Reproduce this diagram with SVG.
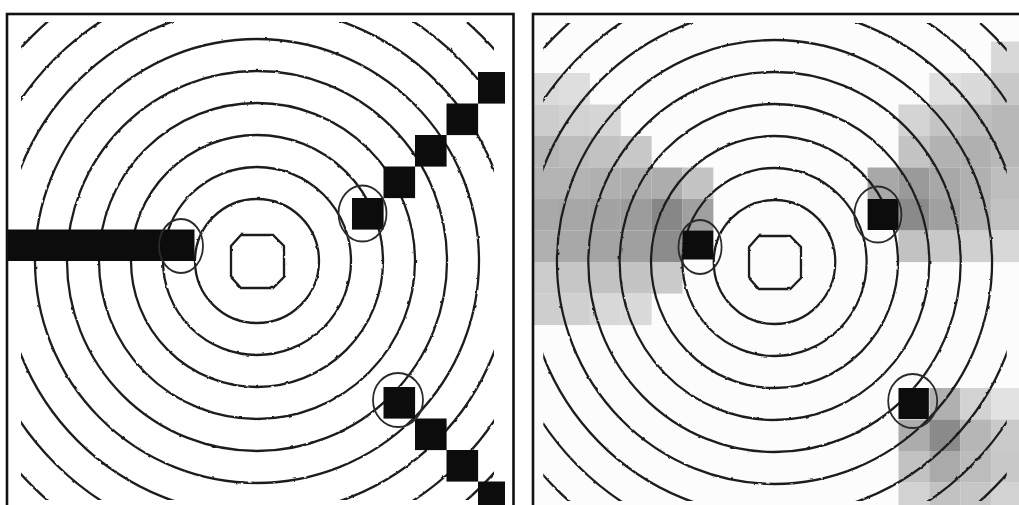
<svg xmlns="http://www.w3.org/2000/svg" width="1019" height="505" viewBox="0 0 1019 505">
<style>
.ring{fill:none;stroke:#1e1e1e;stroke-width:2.3}
.mark{fill:none;stroke:#2a2a2a;stroke-width:1.8}
.blk{fill:#0c0c0c}
.frame{fill:none;stroke:#111;stroke-width:2.6}
</style>
<defs>
<clipPath id="dom"><rect x="21" y="22" width="473" height="478"/></clipPath>
<clipPath id="leftClip"><rect x="8" y="15" width="504" height="495"/></clipPath>
<clipPath id="rightClip"><rect x="534" y="15" width="490" height="495"/></clipPath>
<filter id="rough" x="-5%" y="-5%" width="110%" height="110%">
<feTurbulence type="fractalNoise" baseFrequency="0.2" numOctaves="1" seed="3"/>
<feDisplacementMap in="SourceGraphic" scale="2.4" xChannelSelector="R" yChannelSelector="G"/>
</filter>
<g id="field">
<g clip-path="url(#dom)">
<g filter="url(#rough)">
<circle class="ring" cx="257" cy="261" r="62"/>
<circle class="ring" cx="257" cy="261" r="94"/>
<circle class="ring" cx="257" cy="261" r="126"/>
<circle class="ring" cx="257" cy="261" r="158"/>
<circle class="ring" cx="257" cy="261" r="190"/>
<circle class="ring" cx="257" cy="261" r="222"/>
<circle class="ring" cx="257" cy="261" r="254"/>
<circle class="ring" cx="257" cy="261" r="286"/>
<circle class="ring" cx="257" cy="261" r="318"/>
<polygon class="ring" points="241,235 273,235 284,246 284,277 273,288 241,288 231,277 231,246"/>
</g>
</g>
</g>
<g id="marks">
<ellipse class="mark" cx="181" cy="246" rx="22" ry="27"/>
<ellipse class="mark" cx="362.5" cy="213.5" rx="24" ry="28"/>
<ellipse class="mark" cx="398" cy="400" rx="25" ry="27"/>
</g>
</defs>

<rect x="0" y="0" width="1019" height="505" fill="#ffffff"/>

<g id="left-panel" clip-path="url(#leftClip)">
<use href="#field"/>
<g id="left-squares" class="blk">
<rect x="5.5" y="229.5" width="189" height="31.5"/>
<rect x="352" y="198" width="31.6" height="31.6"/>
<rect x="383.5" y="166.5" width="31.6" height="31.6"/>
<rect x="415" y="135" width="31.6" height="31.6"/>
<rect x="446.5" y="103.5" width="31.6" height="31.6"/>
<rect x="478" y="72" width="27" height="31.6"/>
<rect x="383.5" y="387" width="31.6" height="31.6"/>
<rect x="415" y="418.5" width="31.6" height="31.6"/>
<rect x="446.5" y="450" width="31.6" height="31.6"/>
<rect x="478" y="481.5" width="27" height="31.6"/>
</g>
<use href="#marks"/>
</g>
<rect id="left-frame" class="frame" x="7" y="14" width="506.5" height="510"/>

<g id="right-panel" clip-path="url(#rightClip)">
<rect x="534" y="15" width="490" height="495" fill="#fcfcfc"/>
<g transform="matrix(0.98 0 0 1 522.65 1)">
<g id="right-shading">
<rect x="5.5" y="72" width="31.6" height="31.6" fill="#dadada"/>
<rect x="37" y="72" width="31.6" height="31.6" fill="#dedede"/>
<rect x="5.5" y="103.5" width="31.6" height="31.6" fill="#cdcdcd"/>
<rect x="37" y="103.5" width="31.6" height="31.6" fill="#d2d2d2"/>
<rect x="68.5" y="103.5" width="31.6" height="31.6" fill="#d5d5d5"/>
<rect x="5.5" y="135" width="31.6" height="31.6" fill="#b6b6b6"/>
<rect x="37" y="135" width="31.6" height="31.6" fill="#bcbcbc"/>
<rect x="68.5" y="135" width="31.6" height="31.6" fill="#c2c2c2"/>
<rect x="100" y="135" width="31.6" height="31.6" fill="#c8c8c8"/>
<rect x="5.5" y="166.5" width="31.6" height="31.6" fill="#b4b4b4"/>
<rect x="37" y="166.5" width="31.6" height="31.6" fill="#b4b4b4"/>
<rect x="68.5" y="166.5" width="31.6" height="31.6" fill="#b0b0b0"/>
<rect x="100" y="166.5" width="31.6" height="31.6" fill="#adadad"/>
<rect x="131.5" y="166.5" width="31.6" height="31.6" fill="#adadad"/>
<rect x="163" y="166.5" width="31.6" height="31.6" fill="#c4c4c4"/>
<rect x="5.5" y="198" width="31.6" height="31.6" fill="#a9a9a9"/>
<rect x="37" y="198" width="31.6" height="31.6" fill="#a6a6a6"/>
<rect x="68.5" y="198" width="31.6" height="31.6" fill="#a3a3a3"/>
<rect x="100" y="198" width="31.6" height="31.6" fill="#9c9c9c"/>
<rect x="131.5" y="198" width="31.6" height="31.6" fill="#878787"/>
<rect x="163" y="198" width="31.6" height="31.6" fill="#a0a0a0"/>
<rect x="5.5" y="229.5" width="31.6" height="31.6" fill="#b0b0b0"/>
<rect x="37" y="229.5" width="31.6" height="31.6" fill="#a8a8a8"/>
<rect x="68.5" y="229.5" width="31.6" height="31.6" fill="#a4a4a4"/>
<rect x="100" y="229.5" width="31.6" height="31.6" fill="#a0a0a0"/>
<rect x="131.5" y="229.5" width="31.6" height="31.6" fill="#8c8c8c"/>
<rect x="5.5" y="261" width="31.6" height="31.6" fill="#cbcbcb"/>
<rect x="37" y="261" width="31.6" height="31.6" fill="#c6c6c6"/>
<rect x="68.5" y="261" width="31.6" height="31.6" fill="#c2c2c2"/>
<rect x="100" y="261" width="31.6" height="31.6" fill="#c4c4c4"/>
<rect x="131.5" y="261" width="31.6" height="31.6" fill="#cacaca"/>
<rect x="5.5" y="292.5" width="31.6" height="31.6" fill="#cecece"/>
<rect x="37" y="292.5" width="31.6" height="31.6" fill="#d0d0d0"/>
<rect x="68.5" y="292.5" width="31.6" height="31.6" fill="#d8d8d8"/>
<rect x="100" y="292.5" width="31.6" height="31.6" fill="#dadada"/>

<rect x="478" y="40.5" width="31.6" height="31.6" fill="#d8d8d8"/>
<rect x="415" y="72" width="31.6" height="31.6" fill="#e0e0e0"/>
<rect x="446.5" y="72" width="31.6" height="31.6" fill="#dadada"/>
<rect x="478" y="72" width="31.6" height="31.6" fill="#c8c8c8"/>
<rect x="383.5" y="103.5" width="31.6" height="31.6" fill="#d4d4d4"/>
<rect x="415" y="103.5" width="31.6" height="31.6" fill="#c4c4c4"/>
<rect x="446.5" y="103.5" width="31.6" height="31.6" fill="#bebebe"/>
<rect x="478" y="103.5" width="31.6" height="31.6" fill="#b8b8b8"/>
<rect x="383.5" y="135" width="31.6" height="31.6" fill="#c4c4c4"/>
<rect x="415" y="135" width="31.6" height="31.6" fill="#b2b2b2"/>
<rect x="446.5" y="135" width="31.6" height="31.6" fill="#b0b0b0"/>
<rect x="478" y="135" width="31.6" height="31.6" fill="#b8b8b8"/>
<rect x="352" y="166.5" width="31.6" height="31.6" fill="#a8a8a8"/>
<rect x="383.5" y="166.5" width="31.6" height="31.6" fill="#9a9a9a"/>
<rect x="415" y="166.5" width="31.6" height="31.6" fill="#a8a8a8"/>
<rect x="446.5" y="166.5" width="31.6" height="31.6" fill="#b0b0b0"/>
<rect x="478" y="166.5" width="31.6" height="31.6" fill="#bebebe"/>
<rect x="383.5" y="198" width="31.6" height="31.6" fill="#8a8a8a"/>
<rect x="415" y="198" width="31.6" height="31.6" fill="#a0a0a0"/>
<rect x="446.5" y="198" width="31.6" height="31.6" fill="#b2b2b2"/>
<rect x="478" y="198" width="31.6" height="31.6" fill="#c2c2c2"/>
<rect x="383.5" y="229.5" width="31.6" height="31.6" fill="#c2c2c2"/>
<rect x="415" y="229.5" width="31.6" height="31.6" fill="#c8c8c8"/>
<rect x="446.5" y="229.5" width="31.6" height="31.6" fill="#d0d0d0"/>
<rect x="478" y="229.5" width="31.6" height="31.6" fill="#d8d8d8"/>

<rect x="415" y="387" width="31.6" height="31.6" fill="#b0b0b0"/>
<rect x="446.5" y="387" width="31.6" height="31.6" fill="#d2d2d2"/>
<rect x="478" y="387" width="31.6" height="31.6" fill="#e2e2e2"/>
<rect x="383.5" y="418.5" width="31.6" height="31.6" fill="#acacac"/>
<rect x="415" y="418.5" width="31.6" height="31.6" fill="#8a8a8a"/>
<rect x="446.5" y="418.5" width="31.6" height="31.6" fill="#b6b6b6"/>
<rect x="478" y="418.5" width="31.6" height="31.6" fill="#cacaca"/>
<rect x="383.5" y="450" width="31.6" height="31.6" fill="#c2c2c2"/>
<rect x="415" y="450" width="31.6" height="31.6" fill="#aaaaaa"/>
<rect x="446.5" y="450" width="31.6" height="31.6" fill="#bcbcbc"/>
<rect x="478" y="450" width="31.6" height="31.6" fill="#c8c8c8"/>
<rect x="383.5" y="481.5" width="31.6" height="31.6" fill="#d2d2d2"/>
<rect x="415" y="481.5" width="31.6" height="31.6" fill="#c2c2c2"/>
<rect x="446.5" y="481.5" width="31.6" height="31.6" fill="#c6c6c6"/>
<rect x="478" y="481.5" width="31.6" height="31.6" fill="#d2d2d2"/>
</g>
<use href="#field"/>
<g id="right-squares" class="blk">
<rect x="163" y="229.5" width="31.6" height="29"/>
<rect x="352" y="198" width="31.6" height="31"/>
<rect x="383.5" y="387" width="31" height="31"/>
</g>
<use href="#marks"/>
</g>
</g>
<rect id="right-frame" class="frame" x="533" y="14" width="500" height="510"/>
</svg>
